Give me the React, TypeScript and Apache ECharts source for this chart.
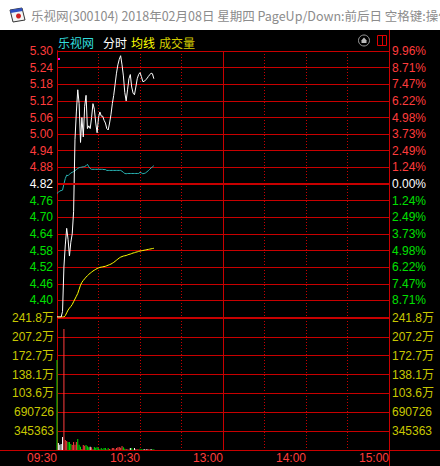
import React, { useEffect, useRef } from 'react';
import * as echarts from 'echarts';

// ---- data (one value per trading minute from 09:30) ----
const price = [
  4.34, 4.34, 4.34, 4.34, 4.36, 4.52, 4.60, 4.66, 4.62, 4.56,
  4.61, 4.64, 4.72, 4.98, 5.08, 5.16, 5.11, 4.97, 5.06, 4.99,
  5.10, 5.14, 5.02, 5.03, 5.02, 5.06, 5.11, 5.09, 5.04, 5.005,
  5.06, 5.08, 5.065, 5.065, 5.05, 5.04, 5.02, 5.015, 5.04, 5.07,
  5.11, 5.14, 5.18, 5.22, 5.25, 5.27, 5.283, 5.25, 5.21, 5.15,
  5.12, 5.16, 5.20, 5.215, 5.17, 5.148, 5.142, 5.17, 5.20, 5.215,
  5.222, 5.208, 5.19, 5.19, 5.196, 5.20, 5.208, 5.214, 5.22, 5.218,
  5.20,
];
const avgPrice = [
  4.34, 4.34, 4.34, 4.34, 4.34, 4.34, 4.345, 4.355, 4.365, 4.372,
  4.378, 4.385, 4.395, 4.405, 4.415, 4.425, 4.44, 4.455, 4.465, 4.472,
  4.478, 4.484, 4.489, 4.494, 4.498, 4.502, 4.506, 4.509, 4.512, 4.515,
  4.517, 4.519, 4.52, 4.521, 4.522, 4.523, 4.525, 4.527, 4.529, 4.531,
  4.534, 4.537, 4.541, 4.545, 4.549, 4.553, 4.556, 4.558, 4.56, 4.561,
  4.562, 4.564, 4.566, 4.567, 4.569, 4.571, 4.572, 4.574, 4.575, 4.577,
  4.578, 4.579, 4.58, 4.581, 4.582, 4.583, 4.584, 4.585, 4.586, 4.587,
  4.588,
];
const indexLine = [
  4.786, 4.79, 4.795, 4.796, 4.798, 4.82, 4.84, 4.852, 4.85, 4.855,
  4.86, 4.862, 4.865, 4.868, 4.872, 4.876, 4.879, 4.88, 4.881, 4.882,
  4.883, 4.886, 4.891, 4.882, 4.876, 4.873, 4.873, 4.873, 4.873, 4.873,
  4.873, 4.873, 4.873, 4.873, 4.872, 4.872, 4.869, 4.869, 4.869, 4.869,
  4.869, 4.869, 4.869, 4.869, 4.869, 4.869, 4.869, 4.866, 4.862, 4.858,
  4.857, 4.858, 4.858, 4.858, 4.858, 4.858, 4.858, 4.858, 4.858, 4.858,
  4.862, 4.86, 4.857, 4.858, 4.86, 4.864, 4.868, 4.873, 4.878, 4.882,
  4.886,
];
const volume = [
  1648000, 128000, 98000, 110000, 238000, 2216000, 183000, 165000, 147000, 147000,
  110000, 92000, 147000, 98000, 147000, 201000, 98000, 61000, 20000, 92000,
  79000, 92000, 67000, 49000, 61000, 49000, 15000, 55000, 43000, 55000,
  31000, 12000, 37000, 12000, 37000, 37000, 10000, 37000, 18000, 10000,
  37000, 37000, 12000, 37000, 49000, 55000, 43000, 73000, 49000, 24000,
  18000, 10000, 10000, 37000, 37000, 10000, 37000, 18000, 12000, 8000,
  24000, 12000, 8000, 18000, 8000, 18000, 12000, 8000, 18000, 8000,
  12000,
];
// 1 = up (red), -1 = down (green), 0 = unchanged (white)
const volDir = [
  -1, 0, 0, 0, 0, 1, 1, 1, -1, -1,
  -1, 1, 1, 1, 1, -1, -1, -1, 1, 1,
  1, -1, -1, -1, 0, 1, 1, -1, -1, -1,
  -1, 1, -1, -1, -1, -1, 1, -1, 1, 1,
  1, 1, 1, 1, 1, 1, 1, 1, -1, -1,
  1, 1, 1, 0, -1, -1, 0, 1, 1, 1,
  -1, -1, -1, 0, 1, 0, 1, 1, 0, -1,
  -1,
];

// ---- axis ticks / labels (bottom to top) ----
const PRICE_MIN = 4.34;
const PRICE_MAX = 5.30;
const PRICE_STEP = 0.06;
const PREV_CLOSE_INDEX = 8;
const priceLabels = ['', '4.40', '4.46', '4.52', '4.58', '4.64', '4.70', '4.76', '4.82',
  '4.88', '4.94', '5.00', '5.06', '5.12', '5.18', '5.24', '5.30'];
const pctLabels = ['', '8.71%', '7.47%', '6.22%', '4.98%', '3.73%', '2.49%', '1.24%', '0.00%',
  '1.24%', '2.49%', '3.73%', '4.98%', '6.22%', '7.47%', '8.71%', '9.96%'];
const VOL_MAX = 2417541;
const VOL_STEP = 345363;
const volLabels = ['', '345363', '690726', '103.6万', '138.1万', '172.7万', '207.2万', '241.8万'];
const timeTickValues = [0, 60, 120, 180, 240];
const timeTickLabels = ['09:30', '10:30', '13:00', '14:00', '15:00'];
const PREV_CLOSE = 4.82;

const RED = '#ff3c3c';
const GREEN = '#00e000';
const GRID = '#c80000';
const VOLTXT = '#c8c800';
const NUMFONT = '"Liberation Sans", "Noto Sans CJK SC", sans-serif';
const CJK = '"Noto Sans CJK SC", sans-serif';

const richStyles = {
  r: { color: RED, fontSize: 12, fontFamily: NUMFONT },
  w: { color: '#ffffff', fontSize: 12, fontFamily: NUMFONT },
  g: { color: GREEN, fontSize: 12, fontFamily: NUMFONT },
};

function priceFmt(labels: string[]) {
  return (v: number) => {
    const k = Math.round((v - PRICE_MIN) / PRICE_STEP);
    const t = labels[k];
    if (!t) return '';
    const s = k > PREV_CLOSE_INDEX ? 'r' : k === PREV_CLOSE_INDEX ? 'w' : 'g';
    return '{' + s + '|' + t + '}';
  };
}
const volFmt = (v: number) => volLabels[Math.round(v / VOL_STEP)] || '';
const timeFmt = (v: number) => {
  const k = timeTickValues.indexOf(Math.round(v));
  return k >= 0 ? timeTickLabels[k] : '';
};

export default function App() {
  const ref = useRef<HTMLDivElement>(null);
  useEffect(() => {
    if (!ref.current) return;
    const chart = echarts.init(ref.current, undefined, { renderer: 'svg' });
    const dirColor = (d: number) => (d > 0 ? RED : d < 0 ? GREEN : '#ffffff');
    const xBase = {
      type: 'value',
      min: 0,
      max: 240,
      interval: 30,
      axisLine: { show: false },
      axisTick: { show: false },
      splitLine: { show: true, lineStyle: { color: GRID, width: 1, type: [1, 2] } },
    };
    // solid session-break line (13:00) drawn by an unlabeled axis with 120-minute steps
    const xSolid = {
      type: 'value',
      min: 0,
      max: 240,
      interval: 120,
      axisLine: { show: false },
      axisTick: { show: false },
      axisLabel: { show: false },
      splitLine: { show: true, lineStyle: { color: GRID, width: 1, type: 'solid' } },
    };
    const option: any = {
      animation: false,
      backgroundColor: '#000000',
      grid: [
        { left: 57, width: 332, top: 51, height: 266 },
        { left: 57, width: 332, top: 318, height: 132 },
      ],
      xAxis: [
        { ...xBase, gridIndex: 0, axisLabel: { show: false } },
        {
          ...xBase,
          gridIndex: 1,
          axisLabel: {
            show: true, formatter: timeFmt, color: RED, fontSize: 12, fontFamily: NUMFONT,
            align: 'right', margin: 2, showMinLabel: true, showMaxLabel: true,
          },
        },
        { ...xSolid, gridIndex: 0 },
        { ...xSolid, gridIndex: 1 },
      ],
      yAxis: [
        {
          type: 'value', gridIndex: 0, position: 'left', min: PRICE_MIN, max: PRICE_MAX, interval: PRICE_STEP,
          axisLine: { show: true, lineStyle: { color: GRID } }, axisTick: { show: false },
          splitLine: { show: true, lineStyle: { color: GRID, width: 1 } },
          axisLabel: { formatter: priceFmt(priceLabels), rich: richStyles, margin: 4 },
        },
        {
          type: 'value', gridIndex: 0, position: 'right', min: PRICE_MIN, max: PRICE_MAX, interval: PRICE_STEP,
          axisLine: { show: true, lineStyle: { color: GRID } }, axisTick: { show: false },
          splitLine: { show: false },
          axisLabel: { formatter: priceFmt(pctLabels), rich: richStyles, margin: 3, align: 'left' },
        },
        {
          type: 'value', gridIndex: 1, position: 'left', min: 0, max: VOL_MAX, interval: VOL_STEP,
          axisLine: { show: true, lineStyle: { color: GRID } }, axisTick: { show: false },
          splitLine: { show: true, lineStyle: { color: GRID, width: 1 } },
          axisLabel: { formatter: volFmt, color: VOLTXT, fontSize: 12, fontFamily: NUMFONT, margin: 3 },
        },
        {
          type: 'value', gridIndex: 1, position: 'right', min: 0, max: VOL_MAX, interval: VOL_STEP,
          axisLine: { show: true, lineStyle: { color: GRID } }, axisTick: { show: false },
          splitLine: { show: false },
          axisLabel: { formatter: volFmt, color: VOLTXT, fontSize: 12, fontFamily: NUMFONT, margin: 3, align: 'left' },
        },
      ],
      series: [
        {
          type: 'line', xAxisIndex: 0, yAxisIndex: 0, symbol: 'none', silent: true,
          data: indexLine.map((v, i) => [i, v]),
          lineStyle: { color: '#2ab5b5', width: 1 },
        },
        {
          type: 'line', xAxisIndex: 0, yAxisIndex: 0, symbol: 'none', silent: true,
          data: avgPrice.map((v, i) => [i, v]),
          lineStyle: { color: '#ffff00', width: 1 },
        },
        {
          type: 'line', xAxisIndex: 0, yAxisIndex: 0, symbol: 'none', silent: true,
          data: price.map((v, i) => [i, v]),
          lineStyle: { color: '#ffffff', width: 1 },
          markLine: {
            silent: true, symbol: 'none', label: { show: false }, animation: false,
            data: [
              { yAxis: PREV_CLOSE, lineStyle: { color: GRID, width: 2, type: 'solid' } },
            ],
          },
          z: 4,
        },
        {
          type: 'bar', xAxisIndex: 1, yAxisIndex: 2, barWidth: 1, silent: true,
          data: volume.map((v, i) => ({ value: [i, v], itemStyle: { color: dirColor(volDir[i]) } })),
        },
      ],
      graphic: [
        { type: 'rect', shape: { x: 0, y: 0, width: 440, height: 30 }, style: { fill: '#ffffff' } },
        {
          type: 'group', children: [
            { type: 'polygon', shape: { points: [[10, 10], [22, 8], [25, 20], [13, 22]] }, style: { fill: '#f4f4f4', stroke: '#333333', lineWidth: 1 } },
            { type: 'polygon', shape: { points: [[10, 10], [22, 8], [22.6, 11], [10.6, 13]] }, style: { fill: '#3050c0' } },
            { type: 'circle', shape: { cx: 18.5, cy: 16, r: 2.5 }, style: { fill: '#d02020' } },
          ],
        },
        {
          type: 'text', x: 31, y: 15,
          style: {
            text: '乐视网(300104) 2018年02月08日 星期四 PageUp/Down:前后日 空格键:操作',
            fill: '#8c8c8c', fontSize: 12.5, fontFamily: CJK, verticalAlign: 'middle',
          },
        },
        { type: 'text', x: 58, y: 42, style: { text: '乐视网', fill: '#33dede', fontSize: 12, fontFamily: CJK, verticalAlign: 'middle' } },
        { type: 'text', x: 103, y: 42, style: { text: '分时', fill: '#ffffff', fontSize: 12, fontFamily: CJK, verticalAlign: 'middle' } },
        { type: 'text', x: 131, y: 42, style: { text: '均线', fill: '#ffff00', fontSize: 12, fontFamily: CJK, verticalAlign: 'middle' } },
        { type: 'text', x: 159, y: 42, style: { text: '成交量', fill: '#d4cc00', fontSize: 12, fontFamily: CJK, verticalAlign: 'middle' } },
        { type: 'circle', shape: { cx: 364, cy: 40.5, r: 5.5 }, style: { fill: 'none', stroke: '#9a9a9a', lineWidth: 1 } },
        { type: 'polygon', shape: { points: [[364, 37.5], [367, 41], [361, 41]] }, style: { fill: '#bdbdbd' } },
        { type: 'rect', shape: { x: 361.5, y: 41, width: 5, height: 2 }, style: { fill: '#bdbdbd' } },
        { type: 'rect', shape: { x: 377.5, y: 35.5, width: 9, height: 10 }, style: { fill: 'none', stroke: '#e00000', lineWidth: 1 } },
        { type: 'line', shape: { x1: 382.5, y1: 35.5, x2: 382.5, y2: 45.5 }, style: { stroke: '#e00000', lineWidth: 1 } },
        { type: 'rect', shape: { x: 58, y: 58, width: 2, height: 2 }, style: { fill: '#ff00ff' } },
        { type: 'line', shape: { x1: 389.5, y1: 30, x2: 389.5, y2: 466 }, style: { stroke: GRID, lineWidth: 1 } },
        { type: 'line', shape: { x1: 0, y1: 450.5, x2: 440, y2: 450.5 }, style: { stroke: GRID, lineWidth: 1 } },
      ],
    };
    chart.setOption(option);
    return () => chart.dispose();
  }, []);
  return <div ref={ref} style={{ position: 'fixed', left: 0, top: 0, width: 440, height: 466 }} />;
}
